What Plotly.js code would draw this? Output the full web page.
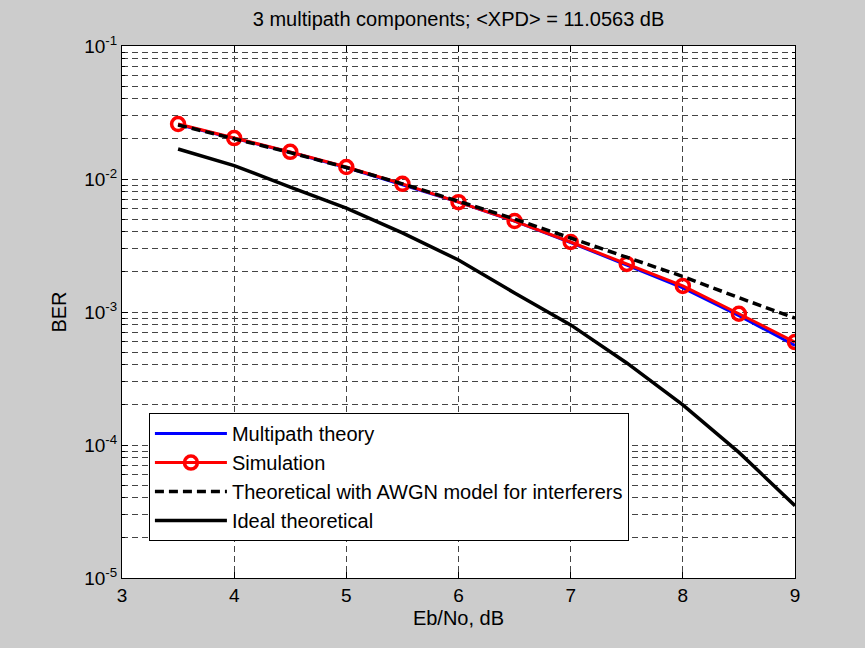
<!DOCTYPE html>
<html>
<head>
<meta charset="utf-8">
<script src="https://cdn.plot.ly/plotly-3.0.1.min.js"></script>
<style>html,body{margin:0;padding:0;background:#cccccc;}</style>
</head>
<body>
<div id="chart" style="width:865px;height:648px;"></div>
<script>
const ebno = [3.5, 4, 4.5, 5, 5.5, 6, 6.5, 7, 7.5, 8, 8.5, 9];
const multipathTheory = [0.0257, 0.0202, 0.0159, 0.0122, 0.0091, 0.0067, 0.00482, 0.00333, 0.00225, 0.00152, 0.00094, 0.00056];
const simulation = [0.0259, 0.0203, 0.0160, 0.0123, 0.0092, 0.0067, 0.00483, 0.00336, 0.0023, 0.00157, 0.00097, 0.000594];
const awgnModel = [0.0255, 0.0201, 0.0158, 0.0122, 0.0092, 0.0068, 0.0050, 0.0036, 0.0026, 0.00185, 0.00128, 0.0009];
const idealTheory = [0.0168, 0.0126, 0.0087, 0.00605, 0.00393, 0.00246, 0.00139, 0.0008, 0.000414, 0.0002, 8.8e-5, 3.5e-5];

const yMajor = [1e-5, 1e-4, 1e-3, 1e-2, 1e-1];
const yMajorText = ['10<sup>-5</sup>', '10<sup>-4</sup>', '10<sup>-3</sup>', '10<sup>-2</sup>', '10<sup>-1</sup>'];
const xTicks = [3, 4, 5, 6, 7, 8, 9];

const yMinor = [];
for (let d = -5; d < -1; d++) for (let k = 2; k <= 9; k++) yMinor.push(k * Math.pow(10, d));

const fam = 'Liberation Sans, Arial, sans-serif';
const gridDash = '6px,4px';

const traces = [
  {x: ebno, y: multipathTheory, name: 'Multipath theory', mode: 'lines', line: {color: '#0000ff', width: 3}},
  {x: ebno, y: simulation, name: 'Simulation', mode: 'lines+markers', line: {color: '#ff0000', width: 3},
   marker: {symbol: 'circle-open', size: 13, color: '#ff0000', line: {width: 3.5, color: '#ff0000'}}},
  {x: ebno, y: awgnModel, name: 'Theoretical with AWGN model for interferers', mode: 'lines', line: {color: '#000', width: 3.5, dash: '9px,5px'}},
  {x: ebno, y: idealTheory, name: 'Ideal theoretical', mode: 'lines', line: {color: '#000', width: 3.5}}
];

const layout = {
  width: 865, height: 648,
  paper_bgcolor: '#cccccc', plot_bgcolor: '#ffffff',
  margin: {l: 122, r: 70, t: 46, b: 70},
  font: {family: fam, size: 19, color: '#000'},
  title: {text: '3 multipath components; &lt;XPD&gt; = 11.0563 dB', x: 0.5, xref: 'paper', xanchor: 'center', y: 0.971, yanchor: 'middle', font: {family: fam, size: 20, color: '#000'}},
  showlegend: true,
  legend: {x: 0.040, y: 0.310, xanchor: 'left', yanchor: 'top', bgcolor: '#ffffff', bordercolor: '#000', borderwidth: 1,
           font: {family: fam, size: 20, color: '#000'}, tracegroupgap: 0, itemwidth: 72},
  xaxis: {
    range: [3, 9], tickmode: 'array', tickvals: xTicks, ticktext: xTicks.map(String),
    showgrid: true, gridcolor: '#444', griddash: gridDash, gridwidth: 1,
    zeroline: false, showline: true, linecolor: '#000', linewidth: 1, mirror: 'ticks',
    ticks: 'inside', ticklen: 6, tickcolor: '#000',
    title: {text: 'Eb/No, dB', font: {family: fam, size: 20, color: '#000'}, standoff: 6},
    tickfont: {family: fam, size: 19, color: '#000'}
  },
  yaxis: {
    type: 'log', range: [-5, -1], tickmode: 'array', tickvals: yMajor, ticktext: yMajorText,
    showgrid: true, gridcolor: '#444', griddash: gridDash, gridwidth: 1,
    zeroline: false, showline: true, linecolor: '#000', linewidth: 1, mirror: 'ticks',
    ticks: 'inside', ticklen: 6, tickcolor: '#000',
    minor: {tickmode: 'array', tickvals: yMinor, showgrid: true, gridcolor: '#444', griddash: gridDash, gridwidth: 1, ticks: 'inside', ticklen: 3, tickcolor: '#000'},
    title: {text: 'BER', font: {family: fam, size: 20, color: '#000'}, standoff: 12},
    tickfont: {family: fam, size: 19, color: '#000'}
  }
};

Plotly.newPlot('chart', traces, layout, {displayModeBar: false, staticPlot: true});
</script>
</body>
</html>
